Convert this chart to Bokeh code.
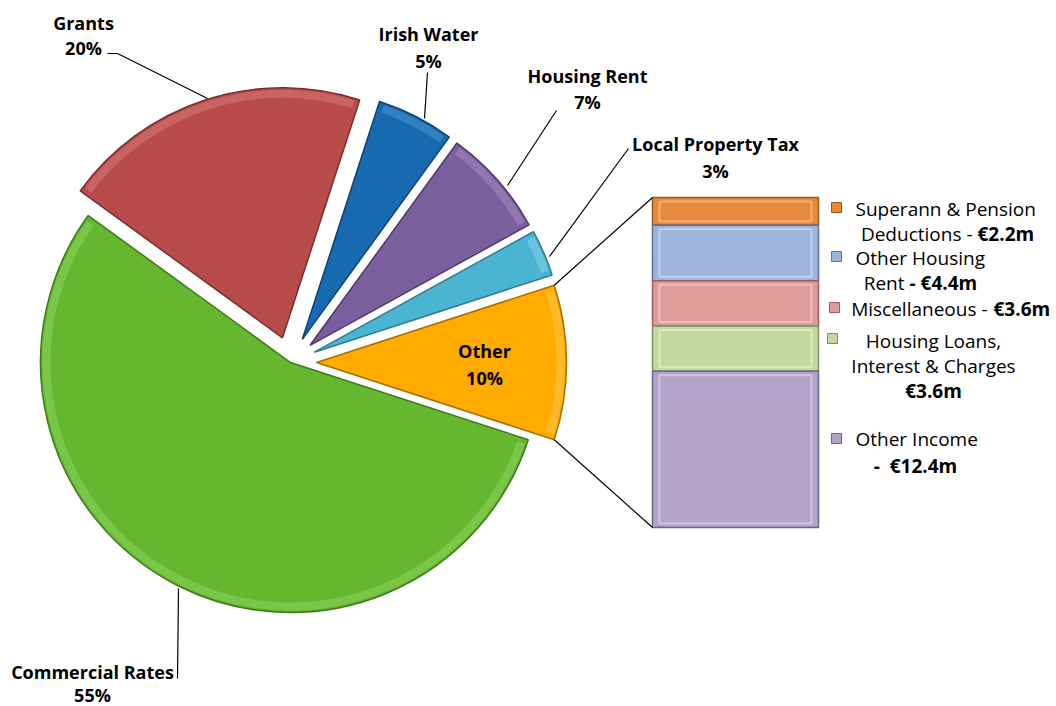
import numpy as np
from bokeh.plotting import figure
from bokeh.models import Range1d
from bokeh.core.properties import value
from bokeh.embed import file_html
from bokeh.resources import INLINE

# ---------------- data ----------------
# Pie slices, counter-clockwise starting from the "Other" slice
pie_labels = ["Other", "Local Property Tax", "Housing Rent", "Irish Water", "Grants", "Commercial Rates"]
pie_pct = [10, 3, 7, 5, 20, 55]

# Breakdown of "Other" (top to bottom of the stacked bar), EUR m
bar_labels = ["Superann & Pension Deductions", "Other Housing Rent", "Miscellaneous",
              "Housing Loans, Interest & Charges", "Other Income"]
bar_values = [2.2, 4.4, 3.6, 3.6, 12.4]

# ---------------- styles ----------------
pie_colors = ["#FFAB00", "#4BB5D1", "#7B5E9E", "#1769B0", "#B84C4A", "#64B72F"]
pie_edges = ["#A86F00", "#2D7E93", "#4E3B66", "#0D4275", "#7A2E2C", "#3E7A1A"]
pie_light = ["#FFD36B", "#9BDDEE", "#B49BD0", "#5D9FDB", "#E08A88", "#9BDB6E"]
pie_explode = [26, 26, 26, 26, 26, 0]
bar_colors = ["#E8893B", "#9EB4DD", "#DD9B9A", "#C3D8A0", "#B3A3C8"]
bar_edges = ["#9C5519", "#5E7199", "#9A5E5D", "#7E9260", "#6E6285"]
bar_light = ["#F8C090", "#D2E0F6", "#F6CFCE", "#E6F3CC", "#DDD2EA"]

W, H = 1056, 706
FONT = value("Open Sans")


def X(px):
    return px


def Y(py):
    return H - py


p = figure(width=W, height=H, x_range=Range1d(0, W), y_range=Range1d(0, H),
           output_backend="svg", toolbar_location=None, min_border=0)
p.axis.visible = False
p.grid.visible = False
p.outline_line_color = None
p.background_fill_color = "white"

# ---------------- pie ----------------
cx, cy, R = X(290), Y(362), 250
pct = np.array(pie_pct, dtype=float)
cum = np.concatenate([[0], np.cumsum(pct)]) / pct.sum()
start0 = -np.pi * pct[0] / pct.sum()
starts = start0 + 2 * np.pi * cum[:-1]
ends = start0 + 2 * np.pi * cum[1:]
mids = (starts + ends) / 2
ex = np.array(pie_explode, dtype=float)
xs = cx + ex * np.cos(mids)
ys = cy + ex * np.sin(mids)

p.wedge(x=xs, y=ys, radius=R, start_angle=starts, end_angle=ends,
        fill_color=pie_colors, line_color=pie_edges, line_width=1.5)
# bevel rim highlight
p.annular_wedge(x=xs, y=ys, inner_radius=R - 10, outer_radius=R - 2,
                start_angle=starts + 0.02, end_angle=ends - 0.02,
                fill_color=pie_light, fill_alpha=0.4, line_color=None)

# ---------------- stacked bar ----------------
bar_bottom_px, bar_h_px = Y(527), 330
total = sum(bar_values)
k = bar_h_px / total
p.extra_y_ranges = {"bar": Range1d(-bar_bottom_px / k, (H - bar_bottom_px) / k)}
vals = np.array(bar_values)
tops = total - np.concatenate([[0], np.cumsum(vals)[:-1]])
bots = tops - vals
bar_x, bar_w = X(735), 166
p.vbar(x=bar_x, width=bar_w, top=tops, bottom=bots, y_range_name="bar",
       fill_color=bar_colors, line_color=bar_edges, line_width=1.5)
p.vbar(x=bar_x, width=bar_w - 14, top=tops - 4 / k, bottom=bots + 4 / k, y_range_name="bar",
       fill_color=None, line_color=bar_light, line_width=2, line_alpha=0.7)

# connector lines from the Other slice to the bar
bar_left = bar_x - bar_w / 2
ox_top = xs[0] + R * np.cos(ends[0])
oy_top = ys[0] + R * np.sin(ends[0])
ox_bot = xs[0] + R * np.cos(starts[0])
oy_bot = ys[0] + R * np.sin(starts[0])
p.segment(x0=[ox_top, ox_bot], y0=[oy_top, oy_bot],
          x1=[bar_left, bar_left], y1=[bar_bottom_px + total * k, bar_bottom_px],
          line_color="black", line_width=1.2)

# ---------------- pie labels ----------------
lab_style = dict(text_font=FONT, text_font_style="bold", text_font_size="18px",
                 text_align="center", text_baseline="middle", text_color="black")
p.text(x=[X(83), X(83)], y=[Y(22), Y(47)], text=["Grants", "20%"], **lab_style)
p.text(x=[X(428), X(428)], y=[Y(33), Y(60)], text=["Irish Water", "5%"], **lab_style)
p.text(x=[X(587), X(587)], y=[Y(75), Y(101)], text=["Housing Rent", "7%"], **lab_style)
p.text(x=[X(715), X(715)], y=[Y(143), Y(170)], text=["Local Property Tax", "3%"], **lab_style)
p.text(x=[X(484), X(484)], y=[Y(350), Y(377)], text=["Other", "10%"], **lab_style)
p.text(x=[X(92), X(92)], y=[Y(671), Y(694)], text=["Commercial Rates", "55%"], **lab_style)

# leader lines
p.line(x=[X(107), X(117), X(207)], y=[Y(53), Y(53), Y(98)], line_color="black", line_width=1.2)
p.line(x=[X(427), X(424)], y=[Y(72), Y(118)], line_color="black", line_width=1.2)
p.line(x=[X(556), X(507)], y=[Y(110), Y(185)], line_color="black", line_width=1.2)
p.line(x=[X(628), X(549)], y=[Y(148), Y(256)], line_color="black", line_width=1.2)
p.line(x=[X(178), X(177)], y=[Y(588), Y(678)], line_color="black", line_width=1.2)

# ---------------- legend ----------------
mk_x = [X(836), X(836), X(834), X(832), X(836)]
mk_y = [Y(207), Y(256), Y(307), Y(338), Y(438)]
p.rect(x=mk_x, y=mk_y, width=10, height=10, fill_color=bar_colors, line_color=bar_edges, line_width=1)

reg = dict(text_font=FONT, text_font_size="19px", text_baseline="middle", text_color="black")
bold = dict(reg, text_font_style="bold")
p.text(x=[X(855)], y=[Y(208)], text=["Superann & Pension"], text_align="left", **reg)
p.text(x=[X(972)], y=[Y(233)], text=["Deductions -"], text_align="right", **reg)
p.text(x=[X(977)], y=[Y(233)], text=["€2.2m"], text_align="left", **bold)
p.text(x=[X(855)], y=[Y(257)], text=["Other Housing"], text_align="left", **reg)
p.text(x=[X(904)], y=[Y(282)], text=["Rent"], text_align="right", **reg)
p.text(x=[X(909)], y=[Y(282)], text=["- €4.4m"], text_align="left", **bold)
p.text(x=[X(987)], y=[Y(308)], text=["Miscellaneous -"], text_align="right", **reg)
p.text(x=[X(993)], y=[Y(308)], text=["€3.6m"], text_align="left", **bold)
p.text(x=[X(933), X(933)], y=[Y(340), Y(365)], text=["Housing Loans,", "Interest & Charges"],
       text_align="center", **reg)
p.text(x=[X(933)], y=[Y(390)], text=["€3.6m"], text_align="center", **bold)
p.text(x=[X(855)], y=[Y(438)], text=["Other Income"], text_align="left", **reg)
p.text(x=[X(915)], y=[Y(465)], text=["-\u00a0 €12.4m"], text_align="center", **bold)

open("out.html", "w").write(file_html(p, INLINE))
